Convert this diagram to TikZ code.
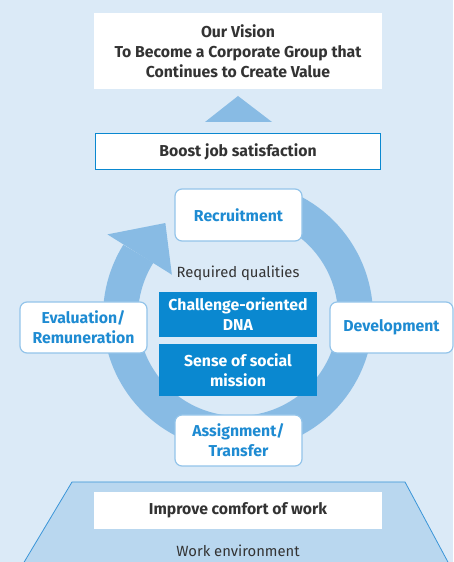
\documentclass[tikz,border=0pt]{standalone}
\usepackage{fontspec}
\setmainfont{Fira Sans}
\usetikzlibrary{calc}
\definecolor{bgc}{HTML}{DBEAF7}
\definecolor{ringc}{HTML}{88BBE4}
\definecolor{darkt}{HTML}{333333}
\definecolor{bluet}{HTML}{1E8BD2}
\definecolor{boxblue}{HTML}{0A88D0}
\definecolor{trapc}{HTML}{B9D7EF}
\definecolor{trapedge}{HTML}{3A95D8}
\definecolor{lightedge}{HTML}{93C4EA}
\begin{document}
\begin{tikzpicture}[x=1pt,y=1pt,
  darkbold/.style={text=darkt,font=\fontsize{15.8}{20}\selectfont\bfseries,align=center},
  stagebox/.style={draw=lightedge,line width=1.2pt,fill=white,rounded corners=7pt,
     text=bluet,font=\fontsize{15.8}{20}\selectfont\bfseries,align=center,inner sep=0pt},
  qualbox/.style={fill=boxblue,text=white,font=\fontsize{15.8}{20}\selectfont\bfseries,align=center,inner sep=0pt},
  plaintext/.style={text=darkt,font=\fontsize{14.8}{16}\selectfont}]
\useasboundingbox (0,0) rectangle (453,562);
\fill[bgc] (0,0) rectangle (453,562);
% top vision
\node[fill=white,minimum width=288pt,minimum height=76pt,inner sep=0pt,darkbold] (vision) at (238,511)
  {Our Vision\\To Become a Corporate Group that\\Continues to Create Value};
\fill[ringc] (205,440) -- (238,466) -- (272,440) -- cycle;
\node[draw=boxblue,line width=1.5pt,fill=white,minimum width=285pt,minimum height=36pt,inner sep=0pt,darkbold] (boost) at (238,410.5) {Boost job satisfaction};
% ring
\coordinate (c) at (238,246);
\draw[ringc,line width=35pt] ($(c)+(68:117.5)$) arc[start angle=68,end angle=-212,radius=117.5];
\fill[ringc] ($(c)+(148:154)$) -- ($(c)+(128:118)$) -- ($(c)+(148:78)$) -- cycle;
% nodes
\node[stagebox,minimum width=127pt,minimum height=52pt] (recr) at (238.5,347) {Recruitment};
\node[stagebox,minimum width=123pt,minimum height=51pt] (dev) at (391.5,234.5) {Development};
\node[stagebox,minimum width=127pt,minimum height=51pt] (eval) at (83.5,234.5) {Evaluation/\\Remuneration};
\node[stagebox,minimum width=127pt,minimum height=51pt] (assign) at (238.5,121.5) {Assignment/\\Transfer};
\node[plaintext] (req) at (238,289) {Required qualities};
\node[qualbox,minimum width=158pt,minimum height=45pt] (dna) at (238,247.5) {Challenge-oriented\\DNA};
\node[qualbox,minimum width=158pt,minimum height=52pt] (social) at (238,192) {Sense of social\\mission};
% trapezoid
\fill[trapc,draw=trapedge,line width=0.8pt] (23,-2) -- (72,80) -- (405,80) -- (449,-2);
\node[fill=white,minimum width=288pt,minimum height=37pt,inner sep=0pt,darkbold] (comfort) at (238,51.5) {Improve comfort of work};
\node[plaintext] (env) at (238,11) {Work environment};
\end{tikzpicture}
\end{document}
